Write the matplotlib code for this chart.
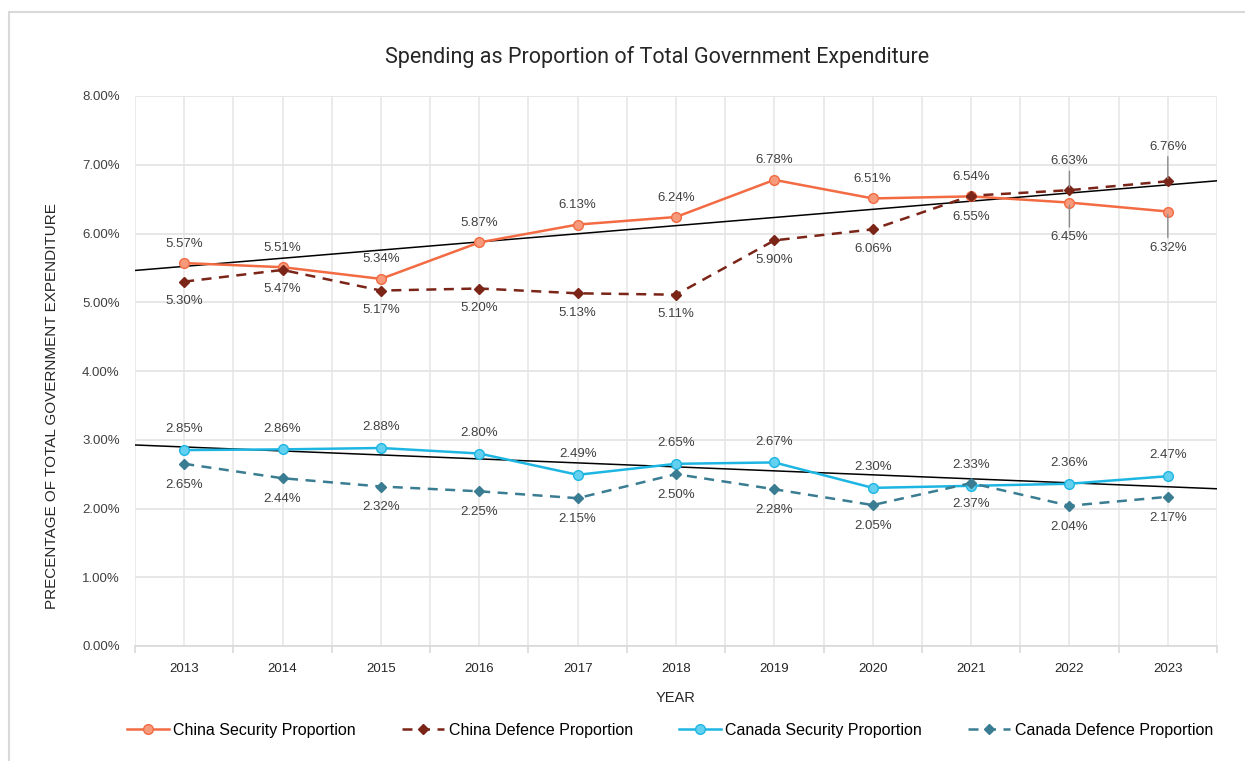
import numpy as np
import matplotlib
matplotlib.use('Agg')
from matplotlib import pyplot as plt
from matplotlib.patches import Rectangle
from matplotlib.ticker import FuncFormatter, MultipleLocator

plt.rcParams['font.family'] = ['Liberation Sans', 'DejaVu Sans']

# Data (percent of total government expenditure)
years = ['2013', '2014', '2015', '2016', '2017', '2018', '2019', '2020', '2021', '2022', '2023']
china_security = [5.57, 5.51, 5.34, 5.87, 6.13, 6.24, 6.78, 6.51, 6.54, 6.45, 6.32]
china_defence = [5.30, 5.47, 5.17, 5.20, 5.13, 5.11, 5.90, 6.06, 6.55, 6.63, 6.76]
canada_security = [2.85, 2.86, 2.88, 2.80, 2.49, 2.65, 2.67, 2.30, 2.33, 2.36, 2.47]
canada_defence = [2.65, 2.44, 2.32, 2.25, 2.15, 2.50, 2.28, 2.05, 2.37, 2.04, 2.17]

# label placement: offset in points (positive = above)
cs_off = [14, 14, 14, 14, 14, 14, 14, 14, 14, -25, -26]
cd_off = [-14, -14, -14, -14, -14, -14, -14, -14, -15, 21, 25]
ks_off = [15] * 11
kd_off = [-15] * 11

x = np.arange(len(years))

fig = plt.figure(figsize=(12.45, 7.61), dpi=100)
ax = fig.add_axes([135 / 1245, 1 - 646 / 761, (1217 - 135) / 1245, (646 - 96) / 761])

# outer frame of the chart
fig.patches.append(Rectangle((9 / 1245, -0.01), 1.0, 1 - 12 / 761 + 0.01, transform=fig.transFigure,
                             fill=False, edgecolor='#D9D9D9', lw=1.5))

series = [
    ('China Security Proportion', china_security, '#F26B43', '#F79A7C', 'o', '-', cs_off),
    ('China Defence Proportion', china_defence, '#7B2418', '#7B2418', 'D', '--', cd_off),
    ('Canada Security Proportion', canada_security, '#1DB6E2', '#63D0F0', 'o', '-', ks_off),
    ('Canada Defence Proportion', canada_defence, '#3A7D93', '#3A7D93', 'D', '--', kd_off),
]

handles = []
for name, vals, col, face, mk, ls, offs in series:
    ms = 7 if mk == 'o' else 5.5
    h, = ax.plot(x, vals, color=col, lw=1.8, ls=ls, marker=mk, ms=ms,
                 markerfacecolor=face, markeredgecolor=col, label=name, zorder=3,
                 dashes=(4, 3) if ls == '--' else (None, None))
    handles.append(h)
    for xi, v, off in zip(x, vals, offs):
        if abs(off) > 18:
            ax.annotate('%.2f%%' % v, (xi, v), xytext=(0, off), textcoords='offset points',
                        ha='center', va='center', fontsize=9.5, color='#404040',
                        arrowprops=dict(arrowstyle='-', color='#8C8C8C', lw=1,
                                        shrinkA=1, shrinkB=2), zorder=4)
        else:
            ax.annotate('%.2f%%' % v, (xi, v), xytext=(0, off), textcoords='offset points',
                        ha='center', va='center', fontsize=9.5, color='#404040', zorder=4)

# linear trendlines
xt = np.array([-0.5, len(years) - 0.5])
for vals in (china_security, canada_security):
    k, b = np.polyfit(x, vals, 1)
    ax.plot(xt, k * xt + b, color='black', lw=1.1, zorder=2)

ax.set_xlim(-0.5, len(years) - 0.5)
ax.set_ylim(0, 8)
ax.yaxis.set_major_locator(MultipleLocator(1))
ax.yaxis.set_major_formatter(FuncFormatter(lambda v, p: '%.2f%%' % v))
ax.set_xticks(x)
ax.set_xticklabels(years)
ax.set_xticks(np.arange(-0.5, len(years), 1), minor=True)
ax.tick_params(axis='x', which='major', length=0, pad=12, labelsize=9.5, labelcolor='#262626')
ax.tick_params(axis='x', which='minor', length=5, color='#D9D9D9', width=1.2)
ax.tick_params(axis='y', length=0, pad=11, labelsize=9.5, labelcolor='#404040')

for xv in np.arange(-0.5, len(years), 0.5):
    ax.axvline(xv, color='#E8E8E8', lw=1.2, zorder=0)
ax.grid(axis='y', color='#E3E3E3', lw=1.2, zorder=0)
for s in ('top', 'right', 'left'):
    ax.spines[s].set_visible(False)
ax.spines['bottom'].set_color('#D9D9D9')
ax.spines['bottom'].set_linewidth(1.2)

fig.text(657 / 1245, 1 - 57 / 761, 'Spending as Proportion of Total Government Expenditure',
         fontsize=15.5, color='#262626', ha='center', va='center', family=['Roboto', 'DejaVu Sans'])
ax.set_xlabel('YEAR', fontsize=10.5, color='#262626')
ax.xaxis.set_label_coords(0.5, -(698 - 646) / 550, transform=ax.transAxes)
ax.xaxis.label.set_va('center')
ax.set_ylabel('PRECENTAGE OF TOTAL GOVERNMENT EXPENDITURE', fontsize=11, color='#262626')
ax.yaxis.set_label_coords(-(135 - 52) / 1082, (646 - 406) / 550)
ax.yaxis.label.set_va('center')

fig.legend(handles=handles, loc='center', bbox_to_anchor=(670 / 1245, 1 - 730 / 761), ncol=4,
           frameon=False, fontsize=11.5, handlelength=2.6, columnspacing=2.9, handletextpad=0.3)

fig.savefig('out.png', dpi=100)
